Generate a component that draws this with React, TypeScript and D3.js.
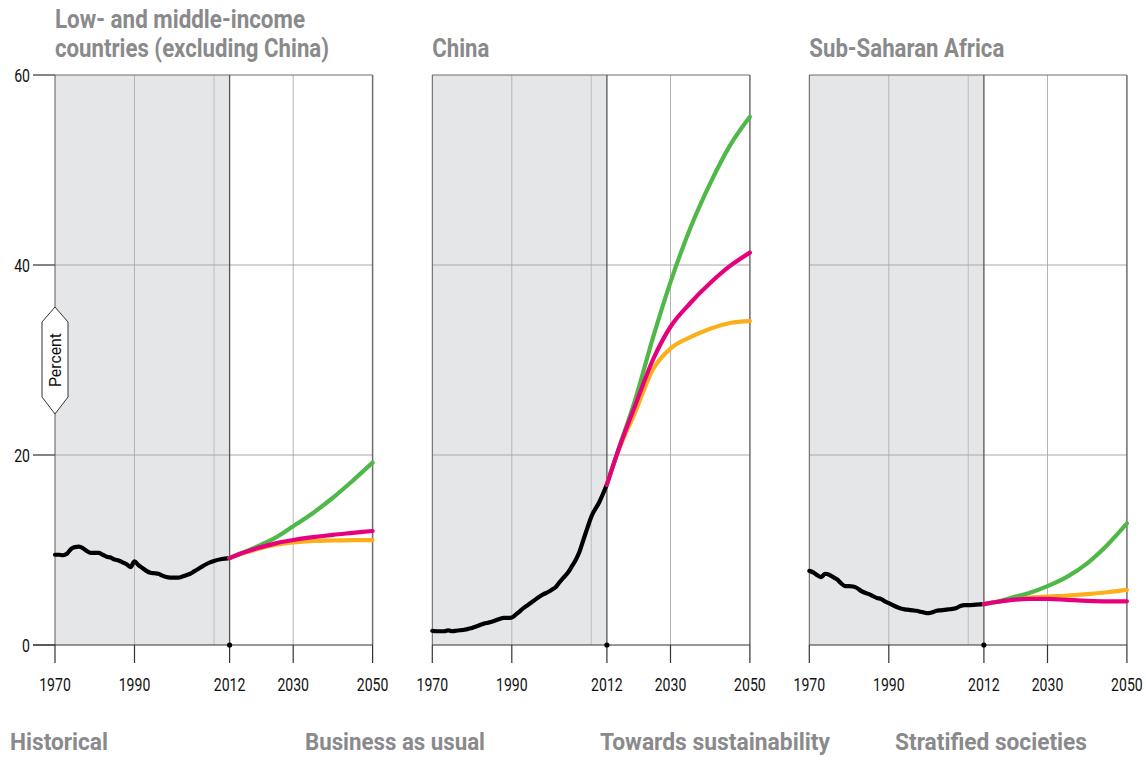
import React from "react";
import * as d3 from "d3";

// ---------- DATA ----------
const histYears = d3.range(1970, 2013);
const projYears = [2012, 2015, 2020, 2025, 2030, 2035, 2040, 2045, 2050];

const lmicHist = [9.5, 9.5, 9.45, 9.6, 10.1, 10.3, 10.35, 10.2, 9.9, 9.7, 9.7, 9.7, 9.5, 9.3, 9.2, 9.0, 8.9, 8.7, 8.5, 8.2, 8.8, 8.4, 8.1, 7.8, 7.6, 7.55, 7.5, 7.3, 7.15, 7.1, 7.1, 7.1, 7.2, 7.35, 7.5, 7.75, 8.0, 8.25, 8.5, 8.7, 8.85, 9.05, 9.15];
const lmicBau = [9.15, 9.55, 10.1, 10.55, 10.8, 10.95, 11.0, 11.05, 11.05];
const lmicSust = [9.15, 9.6, 10.4, 11.3, 12.5, 13.9, 15.5, 17.3, 19.2];
const lmicStrat = [9.15, 9.6, 10.2, 10.7, 11.05, 11.35, 11.6, 11.8, 12.0];

const chinaHist = [1.5, 1.45, 1.45, 1.45, 1.55, 1.45, 1.5, 1.55, 1.6, 1.7, 1.8, 1.95, 2.1, 2.25, 2.35, 2.45, 2.6, 2.75, 2.85, 2.85, 2.9, 3.2, 3.55, 3.9, 4.2, 4.5, 4.8, 5.1, 5.35, 5.55, 5.8, 6.07, 6.6, 7.1, 7.55, 8.2, 8.9, 9.8, 11.05, 12.3, 13.5, 15.0, 16.9];
const chinaBau = [16.9, 20.2, 24.5, 29.0, 31.2, 32.4, 33.3, 33.9, 34.1];
const chinaSust = [16.9, 20.3, 25.8, 32.3, 38.2, 43.9, 48.6, 52.6, 55.6];
const chinaStrat = [16.9, 20.25, 25.2, 30.0, 33.5, 36.0, 38.1, 39.9, 41.3];

const ssaHist = [7.8, 7.65, 7.35, 7.15, 7.5, 7.4, 7.15, 6.9, 6.5, 6.2, 6.2, 6.15, 6.0, 5.7, 5.5, 5.35, 5.15, 4.95, 4.85, 4.6, 4.4, 4.2, 4.0, 3.85, 3.75, 3.7, 3.65, 3.6, 3.5, 3.4, 3.35, 3.45, 3.6, 3.65, 3.7, 3.75, 3.8, 3.9, 4.1, 4.2, 4.2, 4.25, 4.3];
const ssaBau = [4.3, 4.5, 4.8, 5.0, 5.1, 5.2, 5.35, 5.55, 5.8];
const ssaSust = [4.3, 4.5, 5.0, 5.5, 6.2, 7.2, 8.6, 10.5, 12.8];
const ssaStrat = [4.3, 4.5, 4.75, 4.85, 4.85, 4.75, 4.65, 4.6, 4.6];

const xTicks = [1970, 1990, 2012, 2030, 2050];
const yTicks = [0, 20, 40, 60];
const legendLabels = ["Historical", "Business as usual", "Towards sustainability", "Stratified societies"];

const panels = [
  { title: ["Low- and middle-income", "countries (excluding China)"], hist: lmicHist, bau: lmicBau, sust: lmicSust, strat: lmicStrat },
  { title: ["China"], hist: chinaHist, bau: chinaBau, sust: chinaSust, strat: chinaStrat },
  { title: ["Sub-Saharan Africa"], hist: ssaHist, bau: ssaBau, sust: ssaSust, strat: ssaStrat },
];

// ---------- STYLE ----------
const FONT = "Roboto, 'Noto Sans', 'DejaVu Sans', sans-serif";
const GREY_TEXT = "#8a8a8c";
const SHADE = "#e5e6e8";
const C_HIST = "#000000";
const C_BAU = "#fbb01a";
const C_SUST = "#4fb848";
const C_STRAT = "#e6007e";

const titleWidths: Record<string, number> = {
  "Low- and middle-income": 250,
  "countries (excluding China)": 274,
  China: 57,
  "Sub-Saharan Africa": 195,
};
const legendWidths = [98, 180, 230, 192];
const TICK_SX = 0.76;
const TICK_FS = 18.5;

const panelLefts = [55, 432.3, 809.3];
const y = d3.scaleLinear().domain([0, 60]).range([645, 75]);

function SText({ x, y: yy, sx, anchor = "start", children, ...rest }: any) {
  return (
    <text transform={`translate(${x},${yy}) scale(${sx},1)`} textAnchor={anchor} fontFamily={FONT} {...rest}>
      {children}
    </text>
  );
}

function Panel({ p, left, idx }: any) {
  const x = d3
    .scaleLinear()
    .domain([1970, 2010, 2012, 2030, 2050])
    .range([left, left + 159, left + 174.6, left + 238.2, left + 317.6]);
  const line = (years: number[], vals: number[]) =>
    d3
      .line<number>()
      .x((_, i) => x(years[i]))
      .y((v) => y(v))
      .curve(d3.curveMonotoneX)(vals) as string;
  const x0 = x(1970), x1 = x(2050), xs = x(2012);
  return (
    <g>
      <rect x={x0} y={y(60)} width={xs - x0} height={y(0) - y(60)} fill={SHADE} />
      {/* vertical gridlines */}
      <line x1={x(1990)} x2={x(1990)} y1={y(60)} y2={y(0)} stroke="#b4b4b6" strokeWidth={1} />
      <line x1={x(2010)} x2={x(2010)} y1={y(60)} y2={y(0)} stroke="#c4c4c6" strokeWidth={1.2} />
      <line x1={x(2030)} x2={x(2030)} y1={y(60)} y2={y(0)} stroke="#b4b4b4" strokeWidth={1} />
      {/* horizontal gridlines */}
      {[20, 40].map((v) => (
        <line key={v} x1={x0} x2={x1} y1={y(v)} y2={y(v)} stroke="#a8a8a8" strokeWidth={1} />
      ))}
      {/* frame */}
      <line x1={x0} x2={x1} y1={y(60)} y2={y(60)} stroke="#6e6e6e" strokeWidth={1.2} />
      <line x1={x0} x2={x0} y1={y(60)} y2={y(0)} stroke="#5a5a5a" strokeWidth={1} />
      <line x1={x1} x2={x1} y1={y(60)} y2={y(0)} stroke="#6e6e6e" strokeWidth={1.5} />
      <line x1={xs} x2={xs} y1={y(60)} y2={y(0)} stroke="#555" strokeWidth={1.3} />
      {/* y axis (only first panel) */}
      {idx === 0 &&
        yTicks.map((v) => (
          <g key={v}>
            <line x1={33} x2={x0} y1={y(v)} y2={y(v)} stroke="#333" strokeWidth={1.2} />
            <SText x={30} y={y(v) + 6.5} sx={TICK_SX} anchor="end" fontSize={TICK_FS} fill="#111">
              {v}
            </SText>
          </g>
        ))}
      {/* x axis */}
      <line x1={idx === 0 ? 33 : x0} x2={x1} y1={y(0)} y2={y(0)} stroke="#333" strokeWidth={1.2} />
      {xTicks.map((t) => (
        <g key={t}>
          <line x1={x(t)} x2={x(t)} y1={y(0)} y2={663} stroke="#333" strokeWidth={1.2} />
          <SText x={x(t)} y={690.5} sx={TICK_SX} anchor="middle" fontSize={TICK_FS} fill="#111">
            {t}
          </SText>
        </g>
      ))}
      <circle cx={xs} cy={y(0)} r={2.6} fill="#000" />
      {/* data */}
      <path d={line(histYears, p.hist)} fill="none" stroke={C_HIST} strokeWidth={4.2} strokeLinejoin="round" strokeLinecap="round" />
      <path d={line(projYears, p.bau)} fill="none" stroke={C_BAU} strokeWidth={4.2} strokeLinecap="round" />
      <path d={line(projYears, p.sust)} fill="none" stroke={C_SUST} strokeWidth={4.2} strokeLinecap="round" />
      <path d={line(projYears, p.strat)} fill="none" stroke={C_STRAT} strokeWidth={4.2} strokeLinecap="round" />
      {/* title */}
      {p.title.map((t: string, i: number) => (
        <text
          key={i}
          x={x0}
          y={57 - (p.title.length - 1 - i) * 29}
          fontFamily={FONT}
          fontWeight="bold"
          fontSize={25}
          fill={GREY_TEXT}
          textLength={titleWidths[t]}
          lengthAdjust="spacingAndGlyphs"
        >
          {t}
        </text>
      ))}
    </g>
  );
}

export default function App() {
  const lx = 55;
  return (
    <svg width={1146} height={760} style={{ position: "absolute", left: 0, top: 0, background: "#fff" }}>
      <rect width={1146} height={760} fill="#fff" />
      {panels.map((p, i) => (
        <Panel key={i} p={p} left={panelLefts[i]} idx={i} />
      ))}
      {/* Percent label */}
      <polygon
        points={`${lx},307 ${lx + 13},322 ${lx + 13},397 ${lx},414 ${lx - 13},397 ${lx - 13},322`}
        fill="#fff"
        stroke="#333"
        strokeWidth={1}
      />
      <text
        transform={`translate(${lx + 5.5},360) rotate(-90)`}
        textAnchor="middle"
        fontFamily={FONT}
        fontSize={16}
        fill="#111"
        textLength={54}
        lengthAdjust="spacingAndGlyphs"
      >
        Percent
      </text>
      {/* legend */}
      {legendLabels.map((l, i) => (
        <text
          key={l}
          x={10 + i * 295}
          y={750}
          fontFamily={FONT}
          fontWeight="bold"
          fontSize={24}
          fill={GREY_TEXT}
          textLength={legendWidths[i]}
          lengthAdjust="spacingAndGlyphs"
        >
          {l}
        </text>
      ))}
    </svg>
  );
}
